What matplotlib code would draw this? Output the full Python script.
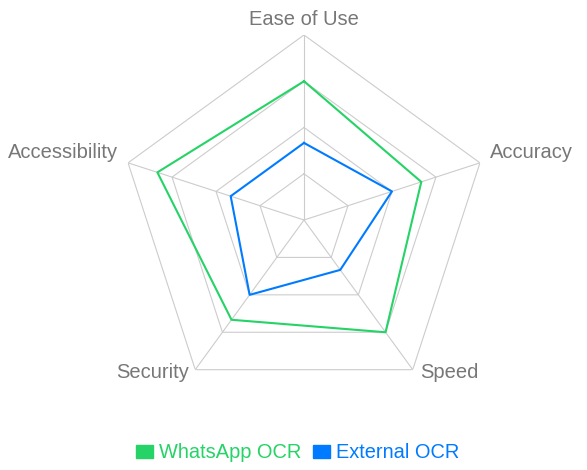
import numpy as np
import matplotlib.pyplot as plt
from matplotlib.patches import Patch

plt.rcParams['font.family'] = ['Liberation Sans', 'DejaVu Sans']

categories = ['Ease of Use', 'Accuracy', 'Speed', 'Security', 'Accessibility']
whatsapp = [9, 8, 9, 8, 10]
external = [5, 6, 4, 6, 5]
ring_levels = [3, 6, 9, 12]
r_max = 12

green = '#25d366'
blue = '#007bff'
grid_col = '#cccccc'
label_col = '#777777'

n = len(categories)
angles = np.linspace(0, 2*np.pi, n, endpoint=False)
closed = np.append(angles, angles[0])

fig = plt.figure(figsize=(5.87, 4.70), dpi=100)
ax = fig.add_axes([119/587, 65/470, 370/587, 370/470], projection='polar')
ax.set_theta_offset(np.pi/2)
ax.set_theta_direction(-1)
ax.set_ylim(0, r_max)
ax.grid(False)
ax.spines['polar'].set_visible(False)
ax.set_xticks([])
ax.set_yticks([])

# pentagon grid + spokes
for lv in ring_levels:
    ax.plot(closed, [lv]*(n+1), color=grid_col, lw=0.8, zorder=1)
for a in angles:
    ax.plot([a, a], [0, r_max], color=grid_col, lw=0.8, zorder=1)

ax.plot(closed, whatsapp + whatsapp[:1], color=green, lw=1.5, zorder=3)
ax.plot(closed, external + external[:1], color=blue, lw=1.5, zorder=3)

# axis labels, offsets in pixels from the outer vertex
offsets = [(0, 10, 'center'), (10, 5, 'left'), (7, -8, 'left'),
           (-6, -8, 'right'), (-10, 5, 'right')]
for a, lab, (dx, dy, ha) in zip(angles, categories, offsets):
    ax.annotate(lab, xy=(a, r_max), xytext=(dx, dy), textcoords='offset pixels',
                ha=ha, va='baseline', fontsize=14.5, color=label_col,
                annotation_clip=False)

handles = [Patch(facecolor=green, edgecolor=green), Patch(facecolor=blue, edgecolor=blue)]
leg = fig.legend(handles, ['WhatsApp OCR', 'External OCR'], loc='center',
                 bbox_to_anchor=(298/587, 17/470), ncol=2, frameon=False,
                 fontsize=14.4, handlelength=0.85, handleheight=0.65,
                 handletextpad=0.3, columnspacing=0.6, borderpad=0)
for t, c in zip(leg.get_texts(), [green, blue]):
    t.set_color(c)

fig.savefig('out.png', dpi=100)
